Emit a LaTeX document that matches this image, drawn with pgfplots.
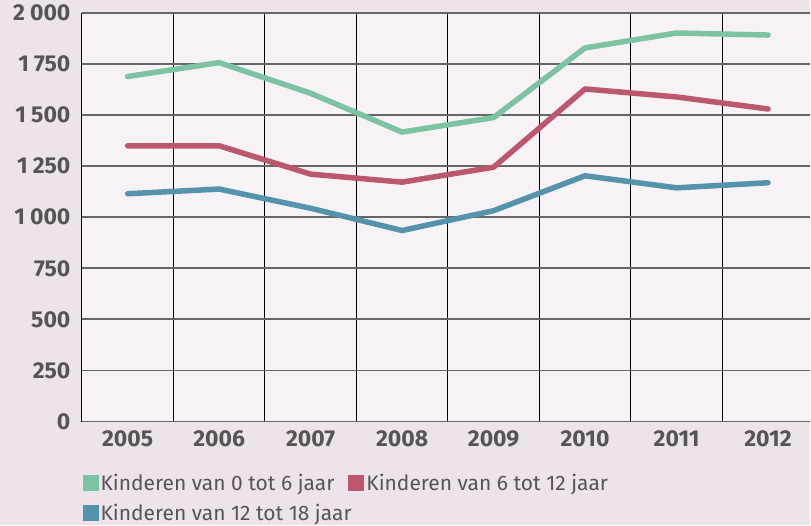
\documentclass[border=0pt]{standalone}
\usepackage{pgfplots}
\pgfplotsset{compat=1.18}
\usepackage{fontspec}
\setmainfont{Fira Sans}
\definecolor{bg}{HTML}{EDE4EB}
\definecolor{plotbg}{HTML}{F6F2F6}
\definecolor{cgreen}{HTML}{7DC2A3}
\definecolor{cred}{HTML}{BC586D}
\definecolor{cblue}{HTML}{5592AC}
\definecolor{tickc}{HTML}{555555}
\definecolor{gridc}{HTML}{666666}
\newcommand{\tsp}{\hspace{0.22em}}
\begin{document}
\begin{tikzpicture}
\fill[bg] (0pt,0pt) rectangle (811pt,526pt);
\begin{axis}[
  at={(82pt,104pt)}, anchor=south west,
  scale only axis, width=729pt, height=409pt,
  xmin=-0.5, xmax=7.46, ymin=0, ymax=2000,
  axis background/.style={fill=plotbg},
  axis line style={draw=none},
  xtick={0,...,7},
  xticklabels={2005,2006,2007,2008,2009,2010,2011,2012},
  minor xtick={-0.5,0.5,1.5,2.5,3.5,4.5,5.5,6.5},
  xminorgrids,
  minor grid style={black, line width=1pt},
  ytick={0,250,...,2000},
  yticklabels={0,250,500,750,1\tsp000,1\tsp250,1\tsp500,1\tsp750,2\tsp000},
  ymajorgrids,
  major grid style={gridc, line width=1.8pt},
  major tick length=0pt, minor tick length=0pt,
  tick label style={font=\bfseries\fontsize{23}{23}\selectfont, text=tickc},
  yticklabel style={xshift=-8pt},
  xticklabel style={yshift=-6pt},
  legend style={at={(0,0)}, anchor=north west, xshift=0.5pt, yshift=-50pt,
    draw=none, fill=none, font=\fontsize{21}{21}\selectfont, text=tickc,
    row sep=9pt, inner sep=0pt},
  legend columns=2,
  legend cell align=left,
  legend image code/.code={\fill (0pt,-8pt) rectangle (16pt,8pt);},
  /tikz/every even column/.append style={column sep=12pt},
  clip=false,
]
\addlegendimage{fill=cgreen, draw=none}
\addlegendentry{Kinderen van 0 tot 6 jaar}
\addlegendimage{fill=cred, draw=none}
\addlegendentry{Kinderen van 6 tot 12 jaar}
\addlegendimage{fill=cblue, draw=none}
\addlegendentry{\rlap{Kinderen van 12 tot 18 jaar}}
\addplot[cgreen, line width=5.5pt, line join=round, line cap=round] coordinates {
(0,1689)(1,1757)(2,1607)(3,1417)(4,1488)(5,1829)(6,1902)(7,1892)};
\addplot[cred, line width=5.5pt, line join=round, line cap=round] coordinates {
(0,1350)(1,1350)(2,1211)(3,1172)(4,1245)(5,1628)(6,1589)(7,1530)};
\addplot[cblue, line width=5.5pt, line join=round, line cap=round] coordinates {
(0,1115)(1,1138)(2,1044)(3,935)(4,1032)(5,1203)(6,1144)(7,1169)};
\end{axis}
\end{tikzpicture}
\end{document}
